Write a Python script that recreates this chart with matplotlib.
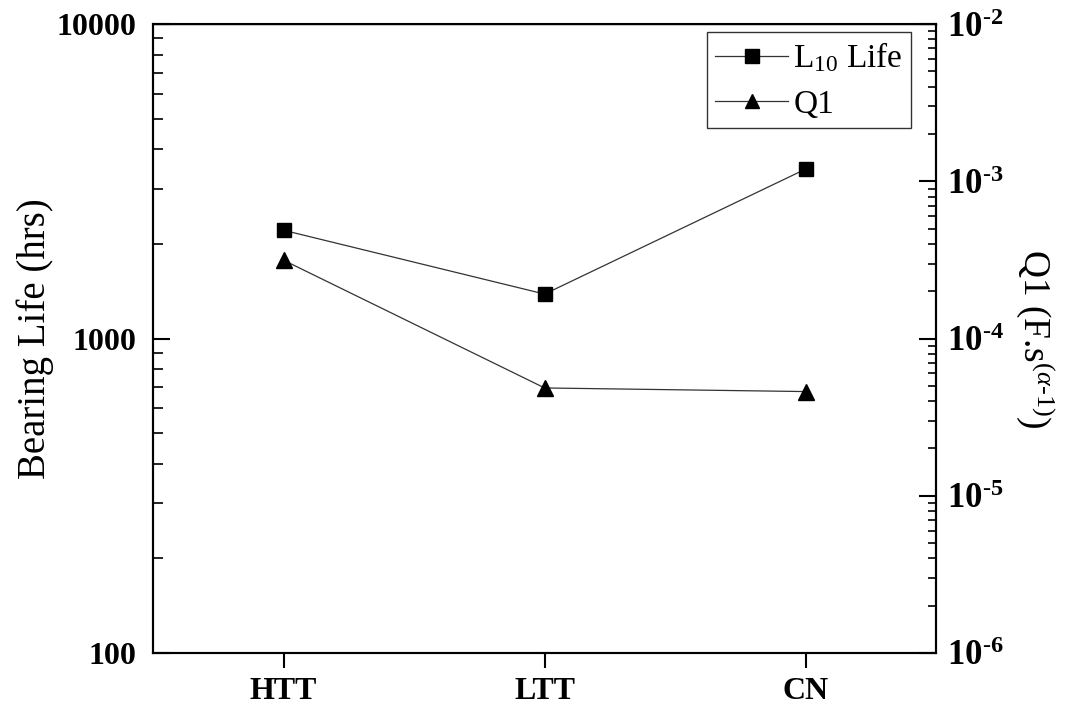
import matplotlib.pyplot as plt
from matplotlib.ticker import LogLocator, NullFormatter, FixedLocator

# data
categories = ["HTT", "LTT", "CN"]
l10_life = [2210, 1385, 3460]          # hrs, left axis
q1_values = [3.15e-4, 4.85e-5, 4.6e-5]  # right axis

plt.rcParams["font.family"] = ["Liberation Serif", "DejaVu Serif"]
plt.rcParams["mathtext.fontset"] = "custom"
plt.rcParams["mathtext.rm"] = "Liberation Serif"
plt.rcParams["mathtext.it"] = "Liberation Serif:italic"
plt.rcParams["mathtext.bf"] = "Liberation Serif:bold"


def main():
    fig, ax = plt.subplots(figsize=(10.7, 7.09), dpi=100)
    fig.subplots_adjust(left=0.143, right=0.875, top=0.966, bottom=0.079)
    ax2 = ax.twinx()

    x = list(range(len(categories)))

    l1, = ax.plot(x, l10_life, color="#333333", linewidth=0.9,
                  marker="s", markersize=10, markerfacecolor="black",
                  markeredgecolor="black", label=r"L$_{10}$ Life")
    l2, = ax2.plot(x, q1_values, color="#333333", linewidth=0.9,
                   marker="^", markersize=11, markerfacecolor="black",
                   markeredgecolor="black", label="Q1")

    # left axis
    ax.set_yscale("log")
    ax.set_ylim(100, 10000)
    ax.set_xlim(-0.5, 2.5)
    ax.set_xticks(x)
    ax.set_xticklabels(categories, fontsize=23, fontweight="bold")
    ax.set_yticks([100, 1000, 10000])
    ax.set_yticklabels(["100", "1000", "10000"], fontsize=23, fontweight="bold")
    ax.yaxis.set_minor_locator(LogLocator(base=10, subs=range(2, 10)))
    ax.yaxis.set_minor_formatter(NullFormatter())
    ax.set_ylabel("Bearing Life (hrs)", fontsize=28, labelpad=2)

    ax.tick_params(axis="y", which="major", direction="in", length=12, width=1.5, pad=12)
    ax.tick_params(axis="y", which="minor", direction="in", length=7, width=1.2)
    ax.tick_params(axis="x", which="major", direction="out", length=11, width=1.5, pad=6)
    ax.tick_params(axis="x", which="minor", bottom=False)

    # right axis
    ax2.set_yscale("log")
    ax2.set_ylim(1e-6, 1e-2)
    ax2.yaxis.set_major_locator(FixedLocator([1e-6, 1e-5, 1e-4, 1e-3, 1e-2]))
    ax2.set_yticklabels([r"$\mathbf{10^{\text{-}%d}}$" % k for k in (6, 5, 4, 3, 2)],
                        fontsize=25)
    ax2.yaxis.set_minor_locator(LogLocator(base=10, subs=range(2, 10)))
    ax2.yaxis.set_minor_formatter(NullFormatter())
    ax2.tick_params(axis="y", which="major", direction="in", length=12, width=1.5, pad=8)
    ax2.tick_params(axis="y", which="minor", direction="in", length=6, width=1.2)
    ax2.set_ylabel(r"Q1 (F.s$^{(\alpha\text{-}1)}$)", fontsize=27,
                   rotation=-90, labelpad=38)

    for a in (ax, ax2):
        for s in a.spines.values():
            s.set_linewidth(1.5)
    ax.spines["top"].set_linewidth(1.0)

    leg = ax.legend(handles=[l1, l2], loc="upper right",
                    bbox_to_anchor=(0.968, 0.987), fontsize=24,
                    numpoints=1, handlelength=2.2, frameon=True, fancybox=False,
                    borderaxespad=0.0, handletextpad=0.15, labelspacing=0.45,
                    borderpad=0.25, markerscale=0.95)
    leg.get_frame().set_edgecolor("black")
    leg.get_frame().set_linewidth(1.0)

    fig.savefig("out.png", dpi=100)


if __name__ == "__main__":
    main()
